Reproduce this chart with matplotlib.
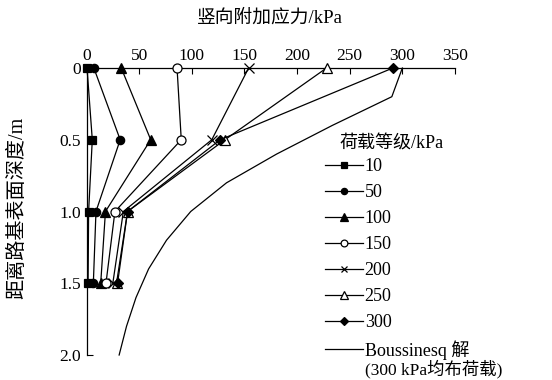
import matplotlib
matplotlib.use("Agg")
import matplotlib.pyplot as plt

plt.rcParams['font.family'] = ['Liberation Serif', 'Noto Sans CJK SC', 'DejaVu Sans']

depth = [0, 0.5, 1.0, 1.5]
load_labels = ['10', '50', '100', '150', '200', '250', '300']
s10 = [0.5, 5.5, 2, 1.5]
s50 = [7, 32, 9, 6.5]
s100 = [33, 61, 18, 13.5]
s150 = [86, 90, 27, 18.5]
s200 = [154, 119, 35, 25]
s250 = [228, 131.5, 39, 28.5]
s300 = [291, 127, 39, 29.5]

bous_depth = [0, 0.2, 0.4, 0.6, 0.8, 1.0, 1.2, 1.4, 1.6, 1.8, 2.0]
bous_sigma = [300, 290, 233.5, 180.5, 133, 99, 76, 59, 47, 38, 31]

xticks = [0, 50, 100, 150, 200, 250, 300, 350]
yticks = [0, 0.5, 1.0, 1.5, 2.0]
yticklabels = ['0', '0.5', '1.0', '1.5', '2.0']

series = [s10, s50, s100, s150, s200, s250, s300]
styles = [
    dict(marker='s', mfc='black', ms=6),
    dict(marker='o', mfc='black', ms=6),
    dict(marker='^', mfc='black', ms=7),
    dict(marker='o', mfc='white', ms=6.5),
    dict(marker='x', mfc='black', ms=6.5),
    dict(marker='^', mfc='white', ms=7),
    dict(marker='D', mfc='black', ms=5.5),
]

fig = plt.figure(figsize=(5.52, 3.8), dpi=100)
ax = fig.add_axes([86.5/552, 1-355/380, (455-86.5)/552, (355-68)/380])

handles = []
for s, st, lab in zip(series, styles, load_labels):
    h, = ax.plot(s, depth, color='black', lw=0.9, mec='black', mew=0.9,
                 clip_on=False, zorder=3, label=lab, **st)
    handles.append(h)
hb, = ax.plot(bous_sigma, bous_depth, color='black', lw=0.9, clip_on=False,
              label='Boussinesq 解')
handles.append(hb)

ax.set_xlim(0, 350)
ax.set_ylim(2.0, 0)
ax.xaxis.tick_top()
ax.set_xticks(xticks)
ax.set_yticks(yticks)
ax.set_yticklabels(yticklabels)
ax.tick_params(axis='both', direction='in', length=4, width=0.8, labelsize=12.5, pad=4)
ax.tick_params(axis='x', pad=3)
for sp in ['right', 'bottom']:
    ax.spines[sp].set_visible(False)
for sp in ['top', 'left']:
    ax.spines[sp].set_linewidth(0.9)

fig.text(270/552, 1-18/380, '竖向附加应力/kPa', ha='center', va='center', fontsize=13.5)
fig.text(18/552, 1-208/380, '距离路基表面深度/m', ha='center', va='center',
         rotation=90, fontsize=14.5)

leg = ax.legend(handles=handles, loc='upper left', frameon=False,
                bbox_to_anchor=(325/552, 1-158/380), bbox_transform=fig.transFigure,
                fontsize=13, handlelength=2.1, handletextpad=0.1, labelspacing=0.5,
                borderaxespad=0, borderpad=0, markerscale=0.75)
fig.text(340/552, 1-144/380, '荷载等级/kPa', ha='left', va='center', fontsize=13)
fig.text(365/552, 1-369.5/380, '(300 kPa均布荷载)', ha='left', va='center', fontsize=12.5)

fig.savefig('out.png', dpi=100)
